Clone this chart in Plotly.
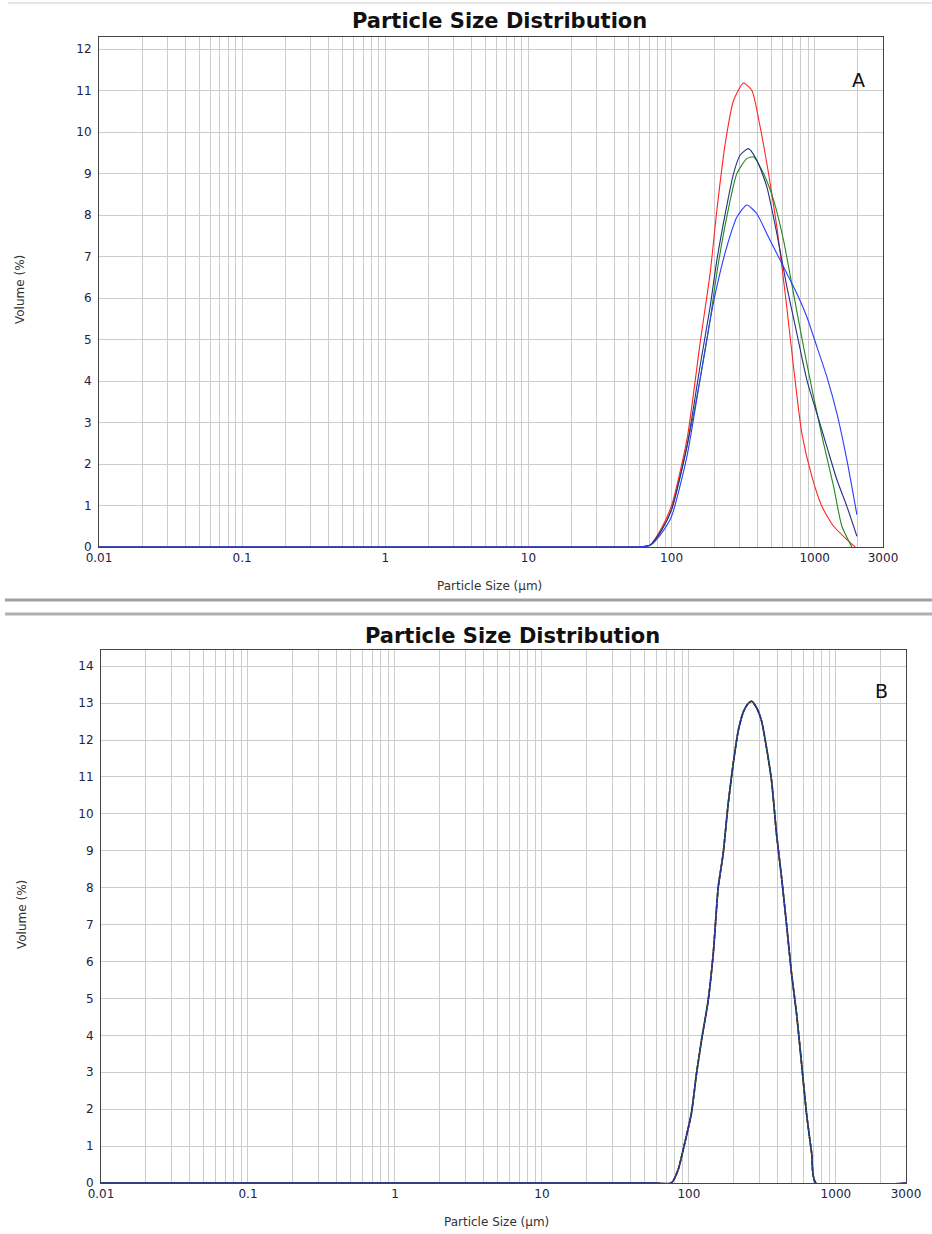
import plotly.graph_objects as go

# ---------------- data ----------------
# Chart A: four measurements
a_red_size = [0.01, 60, 71, 85, 100, 128, 158, 186, 207, 237, 271, 318, 364, 416, 476, 544, 622, 711, 813, 955, 1122, 1355, 1678, 1919]
a_red_vol = [0, 0, 0.05, 0.45, 1.0, 2.58, 4.9, 6.6, 8.1, 9.72, 10.76, 11.18, 11.0, 10.12, 9.0, 7.71, 6.11, 4.35, 2.74, 1.7, 0.98, 0.5, 0.18, 0]

a_navy_size = [0.01, 60, 71, 85, 100, 128, 158, 186, 207, 237, 271, 301, 345, 394, 463, 544, 639, 750, 881, 1035, 1216, 1429, 1678, 1971]
a_navy_vol = [0, 0, 0.05, 0.4, 0.9, 2.42, 4.35, 5.79, 6.9, 8.03, 9.0, 9.44, 9.6, 9.32, 8.68, 7.55, 6.27, 5.15, 4.03, 3.22, 2.42, 1.62, 0.98, 0.26]

a_green_size = [0.01, 60, 71, 85, 100, 128, 158, 186, 207, 243, 286, 336, 374, 439, 516, 606, 711, 835, 982, 1153, 1355, 1548, 1818]
a_green_vol = [0, 0, 0.05, 0.4, 0.9, 2.42, 4.03, 5.47, 6.6, 7.95, 9.0, 9.36, 9.4, 9.0, 8.36, 7.39, 6.11, 4.83, 3.62, 2.5, 1.46, 0.5, 0]

a_blue_size = [0.01, 60, 71, 85, 100, 128, 158, 186, 207, 243, 286, 336, 394, 463, 544, 639, 750, 881, 1035, 1216, 1429, 1678, 1971]
a_blue_vol = [0, 0, 0.04, 0.33, 0.74, 2.18, 4.03, 5.47, 6.27, 7.23, 7.95, 8.24, 8.03, 7.55, 7.07, 6.59, 6.11, 5.55, 4.83, 4.1, 3.22, 2.1, 0.78]

# Chart B: three overlapping measurements
b_size = [0.01, 60, 76, 84.5, 91.4, 104, 112.7, 121.9, 135.3, 146.5, 158.4, 171, 185, 200, 216.6, 234, 253, 267,
          288.5, 312, 337, 365, 394.6, 426.7, 461, 499, 540, 584, 631, 684, 731, 3000]
b_vol = [0, 0, 0, 0.36, 0.9, 1.89, 2.97, 3.87, 4.95, 6.22, 8.02, 8.92, 10.27, 11.35, 12.25, 12.75, 12.99, 13.05,
         12.88, 12.52, 11.8, 10.9, 9.46, 8.29, 7.03, 5.68, 4.59, 3.24, 1.89, 0.81, 0, 0]

x_tick_vals = [0.01, 0.1, 1, 10, 100, 1000, 3000]
x_tick_text = ["0.01", "0.1", "1", "10", "100", "1000", "3000"]
a_y_ticks = list(range(0, 13))
b_y_ticks = list(range(0, 15))

# ---------------- layout helpers ----------------
W, H = 932, 1234


def px(x):
    return x / W


def py(y):
    return 1 - y / H


grid_vals = [m * 10 ** k for k in range(-2, 4) for m in range(1, 10) if m * 10 ** k <= 3000]

fig = go.Figure()


def add_series(sizes, vols, color, width, xa, ya, dash=None):
    # flat baseline part (linear) + measured curve (smoothed)
    fig.add_trace(go.Scatter(x=sizes[:2], y=vols[:2], mode="lines",
                             line=dict(color=color, width=width), xaxis=xa, yaxis=ya))
    fig.add_trace(go.Scatter(x=sizes[1:], y=vols[1:], mode="lines",
                             line=dict(color=color, width=width, shape="spline", smoothing=0.6,
                                       dash=dash or "solid"),
                             xaxis=xa, yaxis=ya))


lw = 1.1
add_series(a_red_size, a_red_vol, "#ff2424", lw, "x", "y")
add_series(a_green_size, a_green_vol, "#1f8a1f", lw, "x", "y")
add_series(a_navy_size, a_navy_vol, "#262e84", lw, "x", "y")
add_series(a_blue_size, a_blue_vol, "#2a3cff", lw, "x", "y")

add_series(b_size, b_vol, "#ff2020", 1.6, "x2", "y2")
add_series(b_size, b_vol, "#1a8a1a", 1.6, "x2", "y2")
add_series(b_size, b_vol, "#2a2aa0", 1.6, "x2", "y2", dash="5px,1px")

tick_font = dict(family="DejaVu Sans, sans-serif", size=12, color="#222244")
grid_col = "#cccccc"

common_x = dict(
    type="log", range=[-2, 3.4771], tickvals=x_tick_vals, ticktext=x_tick_text,
    showgrid=True, gridcolor=grid_col, gridwidth=1,
    minor=dict(tickvals=grid_vals, showgrid=True, gridcolor=grid_col, gridwidth=1, ticks=""),
    showline=True, linecolor="#444444", linewidth=1, mirror=True,
    ticks="", tickfont=tick_font, zeroline=False, fixedrange=True, automargin=False,
)
common_y = dict(
    showgrid=True, gridcolor=grid_col, gridwidth=1,
    showline=True, linecolor="#444444", linewidth=1, mirror=True,
    ticks="", tickfont=tick_font, zeroline=False, ticklabelstandoff=4, automargin=False,
)

fig.update_layout(
    width=W, height=H, autosize=False,
    margin=dict(l=0, r=0, t=0, b=0),
    paper_bgcolor="white", plot_bgcolor="white",
    showlegend=False,
    xaxis=dict(domain=[px(99), px(883)], anchor="y", **common_x),
    yaxis=dict(domain=[py(547), py(37)], anchor="x", range=[0, 12.29], tickvals=a_y_ticks, **common_y),
    xaxis2=dict(domain=[px(101), px(906)], anchor="y2", **common_x),
    yaxis2=dict(domain=[py(1183), py(650)], anchor="x2", range=[0, 14.44], tickvals=b_y_ticks, **common_y),
)

title_font = dict(family="DejaVu Sans, Verdana, sans-serif", size=21, color="#111111")
label_font = dict(family="DejaVu Sans, sans-serif", size=12, color="#333333")

ann = [
    dict(text="<b>Particle Size Distribution</b>", x=px(499), y=py(21), font=title_font),
    dict(text="<b>Particle Size Distribution</b>", x=px(512), y=py(636), font=title_font),
    dict(text="A", x=px(858), y=py(80), font=dict(family="DejaVu Sans, sans-serif", size=19, color="#111111")),
    dict(text="B", x=px(881), y=py(691), font=dict(family="DejaVu Sans, sans-serif", size=19, color="#111111")),
    dict(text="Particle Size (µm)", x=px(490), y=py(586), font=label_font),
    dict(text="Particle Size (µm)", x=px(497), y=py(1222), font=label_font),
    dict(text="Volume (%)", x=px(20), y=py(290), textangle=-90, font=label_font),
    dict(text="Volume (%)", x=px(22), y=py(915), textangle=-90, font=label_font),
]
for a in ann:
    a.update(xref="paper", yref="paper", showarrow=False, xanchor="center", yanchor="middle")
fig.update_layout(annotations=ann)

shapes = [
    dict(type="line", xref="paper", yref="paper", x0=px(8), x1=1, y0=py(3), y1=py(3), line=dict(color="#e6e6e6", width=2)),
    dict(type="line", xref="paper", yref="paper", x0=px(5), x1=1, y0=py(600), y1=py(600), line=dict(color="#a0a0a0", width=3)),
    dict(type="line", xref="paper", yref="paper", x0=px(5), x1=1, y0=py(614), y1=py(614), line=dict(color="#b0b0b0", width=3)),
]
fig.update_layout(shapes=shapes)

fig.write_html("out.html", config={"displayModeBar": False},
               post_script="document.body.style.margin='0';document.body.style.overflow='hidden';")
